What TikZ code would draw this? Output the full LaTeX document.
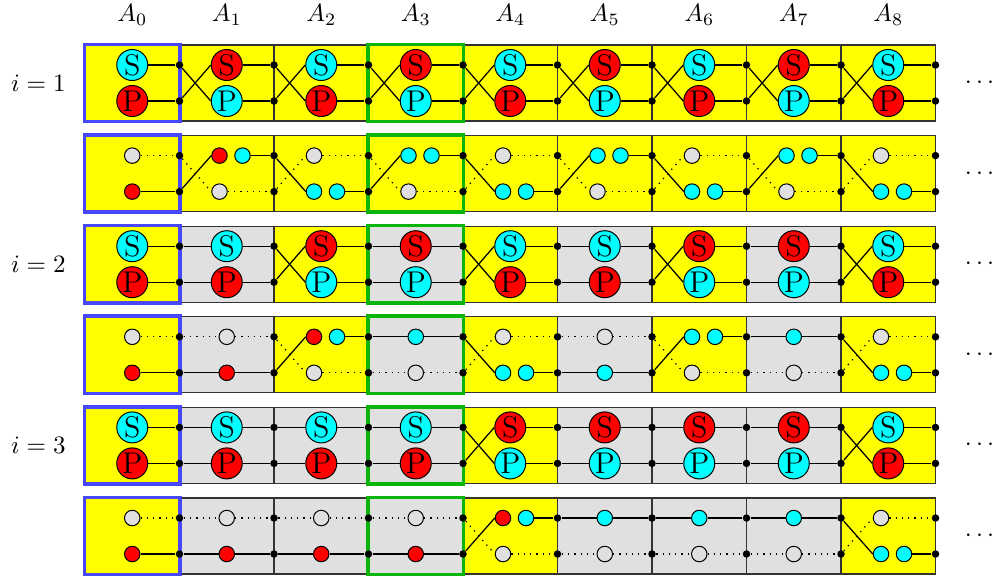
\documentclass[tikz,border=0pt]{standalone}
\usepackage{amsmath}
\usepackage{amssymb}
\usetikzlibrary{positioning}

\definecolor{cellgrey}{gray}{0.88}
\definecolor{cellyellow}{RGB}{255,255,0}
\definecolor{cyan}{RGB}{0,255,255}
\definecolor{red}{RGB}{255,0,0}
\definecolor{frameblue}{RGB}{72,72,250}
\definecolor{framegreen}{RGB}{10,180,10}

\pgfdeclarelayer{back}
\pgfdeclarelayer{mid}
\pgfsetlayers{back,mid,main}

% S/P cell: #1 band, #2 top, #3 column, #4 type (0 first, 1 swap, 2 keep), #5 colour of S, #6 colour of P
\newcommand{\spcell}[6]{%
  \pgfmathsetmacro{\xl}{85+94.5*#3}%
  \pgfmathsetmacro{\xc}{\xl+47.25}%
  \pgfmathtruncatemacro{\kp}{#3-1}%
  \ifnum#4=2 \def\cellfill{cellgrey}\else\def\cellfill{cellyellow}\fi
  \begin{pgfonlayer}{back}
    \node[cell, fill=\cellfill] (c#1-#3) at (\xc,#2+38) {};
  \end{pgfonlayer}
  \node[spnode, fill=#5] (s#1-#3) at (\xc,#2+20) {S};
  \node[spnode, fill=#6] (p#1-#3) at (\xc,#2+56) {P};
  \node[joint] (d#1-#3-0) at (\xl+94.5,#2+20) {};
  \node[joint] (d#1-#3-1) at (\xl+94.5,#2+56) {};
  \draw[wire] (s#1-#3) -- (d#1-#3-0);
  \draw[wire] (p#1-#3) -- (d#1-#3-1);
  \ifnum#4=1
    \draw[wire] (d#1-\kp-0) -- (p#1-#3.west);
    \draw[wire] (d#1-\kp-1) -- (s#1-#3.west);
  \fi
  \ifnum#4=2
    \draw[wire] (d#1-\kp-0) -- (s#1-#3);
    \draw[wire] (d#1-\kp-1) -- (p#1-#3);
  \fi
}

% wire cell: #1 band, #2 top, #3 column, #4 type, #5 solid row (0 top, 1 bottom), #6 colour
\newcommand{\wirecell}[6]{%
  \pgfmathsetmacro{\xl}{85+94.5*#3}%
  \pgfmathsetmacro{\xc}{\xl+47.25}%
  \pgfmathtruncatemacro{\kp}{#3-1}%
  \pgfmathtruncatemacro{\oth}{1-#5}%
  \pgfmathsetmacro{\ys}{#2+20+36*#5}%
  \pgfmathsetmacro{\yo}{#2+20+36*\oth}%
  \ifnum#4=2 \def\cellfill{cellgrey}\else\def\cellfill{cellyellow}\fi
  \begin{pgfonlayer}{back}
    \node[cell, fill=\cellfill] (c#1-#3) at (\xc,#2+38) {};
  \end{pgfonlayer}
  \node[joint] (d#1-#3-#5) at (\xl+94.5,\ys) {};
  \node[joint] (d#1-#3-\oth) at (\xl+94.5,\yo) {};
  \ifnum#4=1
    \node[pnode, fill=#6] (a#1-#3) at (\xl+40,\ys) {};
    \node[pnode, fill=cyan] (b#1-#3) at (\xl+63,\ys) {};
    \node[pnode, fill=cellgrey] (g#1-#3) at (\xl+40,\yo) {};
    \draw[wire] (d#1-\kp-\oth) -- (a#1-#3.west);
    \draw[dotwire] (d#1-\kp-#5) -- (g#1-#3.west);
    \draw[wire] (b#1-#3) -- (d#1-#3-#5);
    \draw[dotwire] (g#1-#3) -- (d#1-#3-\oth);
  \else
    \node[pnode, fill=#6] (a#1-#3) at (\xc,\ys) {};
    \node[pnode, fill=cellgrey] (g#1-#3) at (\xc,\yo) {};
    \draw[wire] (a#1-#3) -- (d#1-#3-#5);
    \draw[dotwire] (g#1-#3) -- (d#1-#3-\oth);
    \ifnum#4=2
      \draw[wire] (d#1-\kp-#5) -- (a#1-#3);
      \draw[dotwire] (d#1-\kp-\oth) -- (g#1-#3);
    \fi
  \fi
}

\begin{document}
\begin{tikzpicture}[x=0.4pt, y=-0.4pt]
    \tikzstyle{cell} = [rectangle, draw=black!80, line width=0.5pt, minimum width=37.8pt, minimum height=30.4pt, inner sep=0pt]
    \tikzstyle{spnode} = [circle, draw, inner sep=0pt, minimum size=12.4pt, font=\large]
    \tikzstyle{pnode} = [circle, draw, inner sep=0pt, minimum size=6.2pt]
    \tikzstyle{joint} = [circle, fill=black, inner sep=0pt, minimum size=3pt]
    \tikzstyle{wire} = [draw, line width=0.5pt]
    \tikzstyle{dotwire} = [draw, dotted, line width=0.5pt]
    \tikzstyle{boxframe} = [draw, line width=1.4pt]

    \useasboundingbox (0,0) rectangle (998,581);

    % i = 1
    \foreach \k/\ty/\colS/\colP in {0/0/cyan/red, 1/1/red/cyan, 2/1/cyan/red, 3/1/red/cyan, 4/1/cyan/red, 5/1/red/cyan, 6/1/cyan/red, 7/1/red/cyan, 8/1/cyan/red}
        {\spcell{1}{45}{\k}{\ty}{\colS}{\colP}}
    \foreach \k/\ty/\row/\col in {0/0/1/red, 1/1/0/red, 2/1/1/cyan, 3/1/0/cyan, 4/1/1/cyan, 5/1/0/cyan, 6/1/1/cyan, 7/1/0/cyan, 8/1/1/cyan}
        {\wirecell{2}{135.6}{\k}{\ty}{\row}{\col}}

    % i = 2
    \foreach \k/\ty/\colS/\colP in {0/0/cyan/red, 1/2/cyan/red, 2/1/red/cyan, 3/2/red/cyan, 4/1/cyan/red, 5/2/cyan/red, 6/1/red/cyan, 7/2/red/cyan, 8/1/cyan/red}
        {\spcell{3}{226.2}{\k}{\ty}{\colS}{\colP}}
    \foreach \k/\ty/\row/\col in {0/0/1/red, 1/2/1/red, 2/1/0/red, 3/2/0/cyan, 4/1/1/cyan, 5/2/1/cyan, 6/1/0/cyan, 7/2/0/cyan, 8/1/1/cyan}
        {\wirecell{4}{316.8}{\k}{\ty}{\row}{\col}}

    % i = 3
    \foreach \k/\ty/\colS/\colP in {0/0/cyan/red, 1/2/cyan/red, 2/2/cyan/red, 3/2/cyan/red, 4/1/red/cyan, 5/2/red/cyan, 6/2/red/cyan, 7/2/red/cyan, 8/1/cyan/red}
        {\spcell{5}{407.4}{\k}{\ty}{\colS}{\colP}}
    \foreach \k/\ty/\row/\col in {0/0/1/red, 1/2/1/red, 2/2/1/red, 3/2/1/red, 4/1/0/red, 5/2/0/cyan, 6/2/0/cyan, 7/2/0/cyan, 8/1/1/cyan}
        {\wirecell{6}{498}{\k}{\ty}{\row}{\col}}

    % frames round A_0 and A_3
    \begin{pgfonlayer}{mid}
        \foreach \r in {1,...,6} {
            \draw[boxframe, frameblue] (c\r-0.north west) rectangle (c\r-0.south east);
            \draw[boxframe, framegreen] (c\r-3.north west) rectangle (c\r-3.south east);
        }
    \end{pgfonlayer}

    % labels
    \foreach \k in {0,...,8}
        \node[above=4pt of c1-\k] (lab\k) {$A_{\k}$};
    \node[left=4pt of c1-0] (it1) {$i=1$};
    \node[left=4pt of c3-0] (it2) {$i=2$};
    \node[left=4pt of c5-0] (it3) {$i=3$};
    \foreach \r in {1,...,6}
        \node[right=8pt of c\r-8] (more\r) {$\cdots$};
\end{tikzpicture}
\end{document}
